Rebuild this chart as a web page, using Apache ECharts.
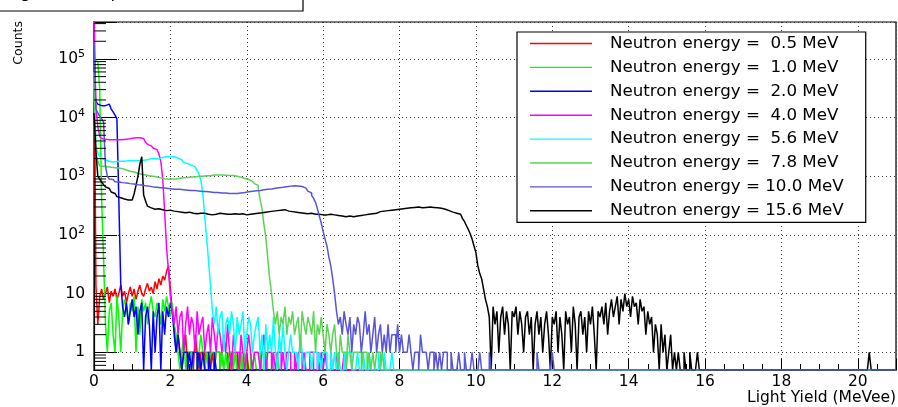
<!DOCTYPE html>
<html><head><meta charset="utf-8">
<script src="https://cdn.jsdelivr.net/npm/echarts@6/dist/echarts.min.js"></script>
<style>html,body{margin:0;padding:0;background:#fff}#c{width:898px;height:407px}</style>
</head><body><div id="c"></div>
<script>
// ---- data (counts per 0.05 MeVee bin, starting at 0) ----
const BIN_WIDTH = 0.05;
const X_MAX = 21;
const Y_MIN = 0.5, Y_MAX = 4.26e5;
const TITLE = 'Light Yield Spectra';
const X_TITLE = 'Light Yield (MeVee)';
const Y_TITLE = 'Counts';
const xTickLabels = [0, 2, 4, 6, 8, 10, 12, 14, 16, 18, 20];
const yTickLabels = ['1', '10', '10{s|2}', '10{s|3}', '10{s|4}', '10{s|5}'];
const seriesNames = [
  'Neutron energy =  0.5 MeV', 'Neutron energy =  1.0 MeV', 'Neutron energy =  2.0 MeV',
  'Neutron energy =  4.0 MeV', 'Neutron energy =  5.6 MeV', 'Neutron energy =  7.8 MeV',
  'Neutron energy = 10.0 MeV', 'Neutron energy = 15.6 MeV'];
const seriesColors = ['#ff0000', '#00ff00', '#0000ff', '#ff00ff', '#00ffff', '#59d454', '#5954d9', '#000000'];

const counts_0p5 = [500000,14,3,9,12,8,10,13,7,11, 9,12,8,10,14,9,11,7,10,13, 9,12,8,11,14,10,9,12,15,11,
  13,10,16,12,18,14,20,17,24,30, 12,5,3,1,2,1,0,1,2,0, 1,1,0,2,1,0,1,1,0,1, 1,0,1,0,1,1,0,1,0,0,
  1,0,1,0,0,1,0,1,0,0, 1];
const counts_1p0 = [95000,90000,85000,30000,400,40,3,1,5,7, 2,1,9,4,1,5,8,6,3,7, 5,9,1,6,2,8,5,7,3,6,
  9,5,4,7,6,3,8,5,9,6, 4,7,3,2,1,0,1,2,0,1, 1,0,1,1,0,1,2,1,0,1, 0,1,1,0,1,1,0,1,0,1,
  0,1,1,0,1,0,0,1,0,1, 0,0,1,0,1,0,0,1,0,0, 1,0,0,1,0,0,1,0,0];
const counts_2p0 = [30000,19000,17000,16000,16500,16000,16500,17000,16500,14000, 12500,11000,9500,400,15,6,4,7,3,5,
  8,4,6,2,5,7,0,4,6,3, 0,5,1,4,7,0,5,2,6,4, 7,5,2,1,2,1,0,1,1,0, 1,0,1,1,0,1,0,1,0,0,
  1,0,0,1,0];
const counts_4p0 = [500000,15000,7000,4800,4400,4300,4350,4200,4250,4200, 4300,4200,4250,4200,4300,4250,4350,4300,4400,4450,
  4500,4550,4500,4550,4500,4400,4300,3800,3500,3300, 3150,3000,2850,2650,2400,1800,900,250,60,25,
  9,5,3,6,2,4,5,1,3,6, 2,4,3,1,5,2,3,4,1,2, 3,1,4,2,1,3,2,1,2,1, 3,1,0,2,1,1,0,2,1,0,
  1,2,1,0,1,1,1,0,1,2, 0,1,1,0,1,0,1,1,0,1, 0,1,1,0,0,1,0,1,1,0, 1,0,0,1,1,0,0,1,0,1,
  0,1,0,0,1,0,0,1,0,0, 0,1];
const counts_5p6 = [40000,3200,2450,2200,2000,1900,1850,1800,1800,1750, 1800,1780,1820,1800,1850,1800,1820,1850,1800,1850,
  1820,1850,1900,1850,1900,1880,1950,1920,1980,2000, 1950,2000,2050,2000,2050,2100,2080,2150,2100,2150,
  2120,2150,2100,2050,1950,1900,1800,1700,1650,1600, 1550,1500,1450,1350,1250,1100,850,500,200,90,
  35,14,5,3,6,2,4,5,1,3, 4,2,5,3,1,4,2,3,5,1, 2,4,3,1,2,3,4,1,2,0, 3,1,2,1,4,1,0,2,1,3,
  1,0,1,2,1,1,1,0,2,1, 0,1,1,1,0,1,1,0,1,0, 1,1,0,0,1,0,1,0,1,0, 0,1,0,1,1,0,0,0,1,0,
  0,1,0,0,1,0,0,0,0,1, 0,0,1,0,0,0,1];
const counts_7p8 = [60000,2500,1800,1500,1480,1450,1450,1420,1420,1400, 1400,1390,1380,1380,1350,1300,1280,1250,1220,1200,
  1180,1150,1130,1100,1080,1070,1050,1040,1020,1010, 1000,990,970,960,940,930,910,900,890,890,
  900,910,900,920,930,920,940,940,950,960, 970,980,970,990,1000,990,1000,1010,1020,1030,
  1020,1040,1050,1040,1050,1060,1050,1060,1040,1050, 1030,1020,1030,1010,1000,980,960,940,920,900,
  880,850,820,790,750,700,620,400,280,150, 90,40,18,10,5,3,5,2,4,3, 6,2,4,3,5,2,3,4,1,5,
  3,2,4,3,2,5,1,3,2,4, 2,1,3,2,1,2,3,1,0,2, 1,1,0,2,1,0,1,1,1,1, 0,1,1,0,1,0,1,0,1,1, 0,1];
const counts_10p0 = [200000,14000,12000,10500,9500,8500,1500,1000,900,880, 860,810,800,790,780,770,770,760,750,740,
  740,730,720,710,710,700,690,690,680,670, 660,660,650,650,640,640,630,630,620,620,
  610,610,600,600,600,590,590,590,580,580, 570,570,570,560,560,560,550,550,550,540,
  540,540,530,530,530,530,520,520,520,510, 510,510,510,505,510,515,520,525,530,540,
  545,550,555,560,565,570,575,580,590,595, 600,605,610,620,625,630,640,645,650,660,
  665,670,680,685,690,690,685,680,670,650, 630,600,560,520,470,420,360,280,210,160,
  115,85,65,42,30,18,10,5,3,4, 2,5,3,2,4,1,3,2,4,3, 1,2,5,2,3,1,2,4,1,2,
  3,1,2,1,3,1,2,2,1,3, 1,2,1,1,1,2,1,0,1,1, 0,2,1,1,1,0,1,1,0,1, 0,1,0,1,1,0,0,1,0,0,
  0,1,0,0,1,0,0,0,1,0, 0,0,1,0,0,0,0,1];
const counts_10p0_farBins = [[232, 1], [240, 1]]; // [bin index, count]
const counts_15p6 = [12000,2600,1000,900,800,720,660,620,580,540, 510,480,450,430,420,410,400,395,390,395,
  420,500,700,1000,1600,2150,480,380,310,290, 280,275,270,280,265,270,275,260,270,265,
  270,255,260,250,255,245,250,240,250,245, 240,235,240,230,240,235,225,235,230,225,
  230,220,230,225,220,235,225,230,220,225, 215,225,220,230,215,225,220,230,225,220,
  230,225,235,230,240,235,245,240,250,245, 255,250,260,255,265,260,270,265,260,270,
  265,255,260,250,255,245,250,240,245,235, 240,230,240,235,230,225,235,225,230,220,
  225,220,215,225,215,220,210,215,220,210, 215,205,215,210,220,205,215,210,220,215,
  225,220,230,225,235,230,240,235,245,250, 245,255,250,260,255,265,260,270,265,275,
  270,280,275,285,280,290,285,295,290,300, 295,290,300,295,305,300,300,295,300,290,
  295,285,280,275,270,260,255,245,240,235, 230,225,210,190,170,145,125,105,85,65,
  50,30,22,18,12,8,6,4,0,6, 3,5,1,4,6,2,5,3,0,5, 4,6,2,5,3,1,4,5,2,4,
  0,3,5,2,4,1,3,5,2,0, 4,3,5,1,4,2,0,5,3,4, 1,6,3,0,4,5,2,4,1,5,
  3,6,2,0,5,4,6,3,7,2, 5,8,4,6,9,3,8,5,10,6, 8,4,9,6,7,3,8,5,6,2,
  5,3,4,1,3,2,0,3,1,2, 0,1,2,0,1,0,1,0,0,1, 0,0,1,0,0,0,1];
const counts_15p6_farBins = [[406, 1]];

const allCounts = [counts_0p5, counts_1p0, counts_2p0, counts_4p0, counts_5p6, counts_7p8, counts_10p0, counts_15p6];
const extraBins = [[], [], [], [], [], [], counts_10p0_farBins, counts_15p6_farBins];

// ---- build ----
const NBINS = Math.round(X_MAX / BIN_WIDTH);
function histData(counts, extra) {
  const full = new Array(NBINS).fill(0);
  counts.forEach((c, i) => { full[i] = c; });
  extra.forEach(([i, c]) => { full[i] = c; });
  const pts = full.map((c, i) => [+(i * BIN_WIDTH).toFixed(4), c > 0 ? c : Y_MIN]);
  pts.push([X_MAX, pts[pts.length - 1][1]]);
  return pts;
}
const FONT = '"DejaVu Sans", "Liberation Sans", Arial, sans-serif';
const drawOrder = [0, 1, 2, 3, 4, 5, 7, 6];
const series = drawOrder.map(k => ({
  name: seriesNames[k], type: 'line', step: 'end', symbol: 'none', showSymbol: false,
  data: histData(allCounts[k], extraBins[k]),
  lineStyle: { color: seriesColors[k], width: 1.5 }, itemStyle: { color: seriesColors[k] },
  clip: true, animation: false, silent: true
}));
// minor log ticks on y (2..9 per decade)
const yMinor = [];
for (let e = -1; e <= 5; e++) for (let m = 2; m <= 9; m++) {
  const v = m * Math.pow(10, e);
  if (v > Y_MIN && v < Y_MAX) yMinor.push([0, v]);
}
series.push({
  type: 'custom', silent: true, animation: false, z: 5,
  data: yMinor,
  renderItem: (params, api) => {
    const p = api.coord([0, api.value(1)]);
    return { type: 'line', shape: { x1: p[0], y1: p[1], x2: p[0] + 12, y2: p[1] }, style: { stroke: '#000', lineWidth: 1 } };
  }
});

const yLabelFor = v => {
  const e = Math.log10(v), r = Math.round(e);
  if (Math.abs(e - r) > 1e-6 || r < 0 || r >= yTickLabels.length) return '';
  return yTickLabels[r];
};

const chart = echarts.init(document.getElementById('c'), null, { renderer: 'canvas', width: 898, height: 407 });
chart.setOption({
  animation: false,
  backgroundColor: '#fff',
  textStyle: { fontFamily: FONT },
  grid: { left: 94, right: 2, top: 22, bottom: 37, show: true, borderColor: '#000', borderWidth: 1.2, backgroundColor: 'transparent' },
  xAxis: {
    type: 'value', min: 0, max: X_MAX, interval: 2,
    axisLine: { show: true, lineStyle: { color: '#000', width: 1.2 } },
    axisTick: { show: true, inside: true, length: 11, lineStyle: { color: '#000' } },
    minorTick: { show: true, splitNumber: 4, length: 6, lineStyle: { color: '#000' } },
    splitLine: { show: true, lineStyle: { color: '#333', type: [1, 3], width: 1 } },
    axisLabel: { fontSize: 15.5, color: '#000', margin: 4, fontFamily: FONT, showMaxLabel: false,
      formatter: v => (xTickLabels.indexOf(Math.round(v)) >= 0 && Math.abs(v - Math.round(v)) < 1e-6) ? String(Math.round(v)) : '' }
  },
  yAxis: {
    type: 'log', logBase: 10, min: Y_MIN, max: Y_MAX,
    axisLine: { show: true, lineStyle: { color: '#000', width: 1.2 } },
    axisTick: { show: true, inside: true, length: 23, lineStyle: { color: '#000' } },
    splitLine: { show: true, lineStyle: { color: '#333', type: [1, 3], width: 1 } },
    axisLabel: { fontSize: 15.5, color: '#000', margin: 9, fontFamily: FONT, lineHeight: 20,
      formatter: yLabelFor,
      rich: { s: { fontSize: 11, lineHeight: 11, verticalAlign: 'top', fontFamily: FONT, color: '#000' } } }
  },
  legend: {
    orient: 'vertical', left: 517, top: 32,
    padding: [3, 22, 3, 13], itemWidth: 62, itemHeight: 16, itemGap: 6.9,
    backgroundColor: '#fff', borderColor: '#000', borderWidth: 1.2,
    textStyle: { fontSize: 16.7, lineHeight: 16, color: '#000', fontFamily: FONT, padding: [0, 0, 0, 13] },
    itemStyle: { borderWidth: 0 },
    data: seriesNames.map(n => ({ name: n, icon: 'path://M0,0L62,0L62,1.4L0,1.4Z' })),
    selectedMode: false
  },
  graphic: [
    { type: 'rect', shape: { x: -1, y: -20, width: 304, height: 31 }, style: { fill: '#fff', stroke: '#000', lineWidth: 1.2 }, z: 10 },
    { type: 'text', x: 6, y: -7, style: { text: TITLE, font: '17px ' + FONT, fill: '#000', align: 'left', verticalAlign: 'middle' }, z: 11 },
    { type: 'text', x: 18.5, y: 21, rotation: Math.PI / 2, style: { text: Y_TITLE, font: '12.5px ' + FONT, fill: '#000', align: 'right', verticalAlign: 'middle' } },
    { type: 'text', x: 896, y: 398, style: { text: X_TITLE, font: '15.5px ' + FONT, fill: '#000', align: 'right', verticalAlign: 'middle' } }
  ],
  series: series
});
</script>
</body></html>
